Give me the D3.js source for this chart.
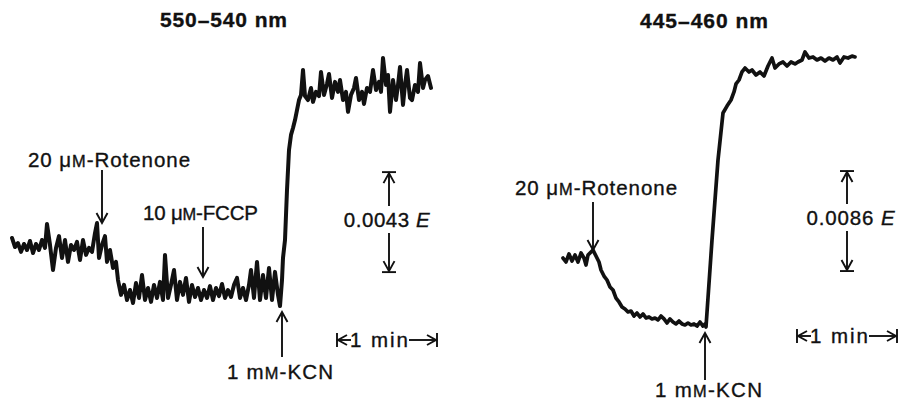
<!DOCTYPE html>
<html><head><meta charset="utf-8">
<script src="https://cdn.jsdelivr.net/npm/d3@7"></script>
<style>
body{margin:0;background:#fff}
svg{display:block}
text{font-family:"Liberation Sans",Arial,Helvetica,sans-serif;fill:#111;stroke:#111;stroke-width:0.35px}
</style>
</head><body>
<svg id="c" width="898" height="400"></svg>
<script>
// ---------- DATA ----------
const leftTitle = "550–540 nm";
const rightTitle = "445–460 nm";
// time in s, signal in 10^-3 E (absorbance change)
const leftTime = [0,1.8,3.6,5.4,7.2,9.0,10.8,12.6,14.4,16.2,18.0,19.8,21.0,22.8,24.6,26.4,28.2,30.0,31.8,33.6,35.4,37.2,39.0,40.8,42.6,44.4,46.2,48.0,49.8,51.0,52.2,54.0,55.8,57.0,58.8,60.6,62.4,63.6,65.4,67.2,69.0,70.8,72.6,74.4,76.2,78.0,79.8,81.6,83.4,85.2,87.0,88.8,90.6,91.8,93.6,95.4,97.2,99.0,100.8,102.6,104.4,106.2,108.0,109.8,111.6,113.4,115.2,117.0,118.8,120.6,122.4,124.2,126.0,127.8,129.6,131.4,133.2,135.0,136.8,138.6,140.4,142.2,143.4,145.2,147.0,148.8,150.6,152.4,154.2,156.0,157.8,159.6,160.8,162.0,162.6,163.8,165.0,166.2,167.4,168.6,169.8,171.0,172.2,173.4,174.6,175.8,177.6,179.4,180.6,182.4,184.2,185.4,187.2,189.0,190.2,192.0,193.8,195.6,196.8,198.6,200.4,201.6,203.4,205.2,206.4,208.2,210.0,211.2,213.0,214.8,216.6,218.4,220.2,221.4,222.6,224.4,225.6,226.8,228.6,230.4,231.6,232.8,234.6,235.8,237.0,238.8,240.0,241.8,243.6,244.8,246.6,247.8,249.6,251.4];
const leftSignal = [2.97,2.58,2.75,2.37,2.71,2.45,2.84,2.32,2.71,2.45,2.88,2.54,3.57,2.67,1.59,2.54,3.05,2.11,2.88,1.94,2.67,2.45,2.80,2.02,2.88,2.24,2.54,2.37,3.18,3.61,2.11,2.67,3.05,1.94,2.45,1.68,1.94,1.16,0.52,0.95,0.30,0.73,0.17,1.03,0.39,1.38,0.30,0.82,0.22,0.95,0.39,1.08,0.30,2.24,0.39,0.95,1.59,0.30,1.08,0.52,1.25,0.22,0.95,0.43,0.82,0.30,0.73,0.39,0.90,0.30,0.82,0.47,0.99,0.39,0.73,0.43,0.95,1.25,0.39,0.82,0.30,0.95,1.59,0.39,1.94,0.30,1.38,0.39,1.68,0.30,1.51,0.52,0.04,1.16,2.11,2.88,5.03,6.75,7.40,7.70,8.04,8.47,8.90,9.12,10.19,9.07,8.90,9.42,8.82,9.25,9.07,10.11,9.12,9.59,10.02,8.99,9.68,9.25,9.76,8.90,9.25,8.39,9.12,9.42,9.85,8.90,9.25,8.73,9.42,9.25,10.19,9.33,9.68,9.25,10.71,9.55,9.98,8.39,9.76,8.90,9.55,10.32,8.69,9.55,10.19,8.99,8.90,9.55,9.25,10.49,9.42,9.76,9.93,9.42];
const rightTime = [0.6,2.4,4.2,6.0,7.8,9.6,11.4,13.2,14.4,15.6,17.4,18.6,20.4,22.2,23.4,25.2,27.0,28.8,30.6,32.4,34.2,36.0,37.8,39.6,41.4,43.2,45.0,46.8,48.6,50.4,52.2,54.0,55.8,57.6,59.4,61.2,63.0,64.8,66.6,68.4,70.2,72.0,73.8,75.6,77.4,79.2,81.0,82.8,84.6,85.8,86.4,90.0,93.6,96.6,99.0,101.4,103.2,104.4,106.2,108.0,109.8,112.2,114.0,116.4,118.8,121.2,123.6,126.0,127.8,130.2,132.6,135.0,137.4,139.8,141.6,144.0,145.8,148.2,150.6,153.0,155.4,157.8,160.2,162.6,165.0,166.8,169.2,171.6,174.0,175.8];
const rightSignal = [6.19,5.85,6.54,5.93,6.45,5.85,6.62,6.19,5.59,6.45,6.71,6.88,6.36,5.85,5.16,4.64,4.30,3.70,3.44,2.75,2.41,1.98,1.81,1.55,1.63,1.20,1.46,1.12,1.38,1.03,1.12,0.95,1.03,0.86,1.20,0.95,0.60,0.95,0.69,0.52,0.77,0.52,0.43,0.60,0.43,0.52,0.34,0.69,0.34,0.52,0.26,7.74,14.62,18.66,19.26,19.78,20.47,21.16,21.50,22.19,22.53,22.19,22.36,21.93,22.19,21.84,22.70,23.39,22.53,22.88,23.05,22.70,23.05,22.88,23.05,23.22,23.91,23.39,23.48,23.22,23.39,23.13,23.39,23.22,23.48,22.96,23.48,23.39,23.56,23.48];
// additions (label, time in s)
const leftEventLabels = ["20 μM-Rotenone", "10 μM-FCCP", "1 mM-KCN"];
const leftEventTimes = [54.0, 114.6, 162.0];
const rightEventLabels = ["20 μM-Rotenone", "1 mM-KCN"];
const rightEventTimes = [18.6, 85.8];
// calibration bars
const leftScaleLabel = ["0.0043 ", "E"];
const leftScaleValue = 4.3;   // 10^-3 E
const rightScaleLabel = ["0.0086 ", "E"];
const rightScaleValue = 8.6;  // 10^-3 E
const timeBarLabel = "1 min";
const timeBarSeconds = 60;

// ---------- DRAW ----------
const svg = d3.select("#c");
const ink = "#111";
const FS = 20.5;

function richLabel(g, str, x, y, size, width, anchor, weight) {
  const t = g.append("text").attr("x", x).attr("y", y)
    .attr("font-size", size).attr("font-weight", weight || "normal")
    .attr("text-anchor", anchor || "start");
  let buf = "";
  for (let i = 0; i < str.length; i++) {
    const ch = str[i];
    if (ch === "M" && i > 0 && (str[i-1] === "μ" || str[i-1] === "m")) {
      if (buf) { t.append("tspan").text(buf); buf = ""; }
      t.append("tspan").attr("font-size", size * 0.8).text("M");
    } else buf += ch;
  }
  if (buf) t.append("tspan").text(buf);
  fitWidth(t, str.length, width);
  return t;
}
function fitWidth(t, n, width) {
  if (!width) return;
  const len = t.node().getComputedTextLength();
  const ls = (width - len) / Math.max(1, n - 1);
  t.attr("letter-spacing", ls.toFixed(2));
}
function arrowDown(g, x, y0, tip) {
  g.append("line").attr("x1", x).attr("x2", x).attr("y1", y0).attr("y2", tip - 1)
    .attr("stroke", ink).attr("stroke-width", 1.9);
  g.append("path").attr("d", `M${x-5.5},${tip-10}L${x},${tip}L${x+5.5},${tip-10}`)
    .attr("fill", "none").attr("stroke", ink).attr("stroke-width", 1.9);
}
function arrowUp(g, x, tip, y1) {
  g.append("line").attr("x1", x).attr("x2", x).attr("y1", tip + 1).attr("y2", y1)
    .attr("stroke", ink).attr("stroke-width", 1.9);
  g.append("path").attr("d", `M${x-5.5},${tip+10}L${x},${tip}L${x+5.5},${tip+10}`)
    .attr("fill", "none").attr("stroke", ink).attr("stroke-width", 1.9);
}

function panel(cfg) {
  const g = svg.append("g");
  const x = d3.scaleLinear().domain([0, timeBarSeconds]).range([cfg.x0, cfg.x0 + 100]);
  const y = d3.scaleLinear().domain([0, cfg.scaleValue]).range([cfg.y0, cfg.y0 - 100]);
  const pts = d3.zip(cfg.time, cfg.signal);
  const line = d3.line().x(d => x(d[0])).y(d => y(d[1]));
  g.append("path").datum(pts).attr("d", line)
    .attr("fill", "none").attr("stroke", ink).attr("stroke-width", cfg.lw)
    .attr("stroke-linejoin", "round").attr("stroke-linecap", "round");

  richLabel(g, cfg.title, cfg.titlePos[0], cfg.titlePos[1], 21, cfg.titlePos[2], "start", "bold");

  cfg.eventLabels.forEach((lab, i) => {
    const ex = x(cfg.eventTimes[i]);
    const L = cfg.eventLayout[i];
    if (L.dir === "down") arrowDown(g, ex, L.a, L.b);
    else arrowUp(g, ex, L.a, L.b);
    richLabel(g, lab, L.tx, L.ty, FS, L.tw, "start");
  });

  const sx = x(cfg.scaleT);
  const yb = y(cfg.scaleBase), yt = y(cfg.scaleBase + cfg.scaleValue);
  const S = cfg.scaleLayout;
  g.append("line").attr("x1", sx - 7).attr("x2", sx + 7).attr("y1", yt).attr("y2", yt)
    .attr("stroke", ink).attr("stroke-width", 1.9);
  arrowUp(g, sx, yt + 1, S.gapTop);
  g.append("line").attr("x1", sx - 7).attr("x2", sx + 7).attr("y1", yb).attr("y2", yb)
    .attr("stroke", ink).attr("stroke-width", 1.9);
  arrowDown(g, sx, S.gapBot, yb - 1);
  const st = g.append("text").attr("x", S.cx).attr("y", S.ty).attr("font-size", FS)
    .attr("text-anchor", "middle");
  st.append("tspan").text(cfg.scaleLabel[0]);
  st.append("tspan").attr("font-style", "italic").text(cfg.scaleLabel[1]);
  fitWidth(st, cfg.scaleLabel.join("").length, S.tw);

  const tx0 = x(cfg.timeBarT), tx1 = x(cfg.timeBarT + timeBarSeconds);
  const T = cfg.timeLayout;
  const tt = g.append("text").attr("x", T.tx).attr("y", T.ty).attr("font-size", FS).text(timeBarLabel);
  fitWidth(tt, timeBarLabel.length, T.tw);
  const ay = T.ay;
  [tx0, tx1].forEach(v => g.append("line").attr("x1", v).attr("x2", v)
    .attr("y1", ay - 7).attr("y2", ay + 7).attr("stroke", ink).attr("stroke-width", 1.9));
  g.append("line").attr("x1", tx0 + 1).attr("x2", T.tx + 1).attr("y1", ay).attr("y2", ay)
    .attr("stroke", ink).attr("stroke-width", 1.9);
  g.append("path").attr("d", `M${tx0+10},${ay-5}L${tx0+1},${ay}L${tx0+10},${ay+5}`)
    .attr("fill", "none").attr("stroke", ink).attr("stroke-width", 1.9);
  g.append("line").attr("x1", T.tx + T.tw + 1).attr("x2", tx1 - 1).attr("y1", ay).attr("y2", ay)
    .attr("stroke", ink).attr("stroke-width", 1.9);
  g.append("path").attr("d", `M${tx1-10},${ay-5}L${tx1-1},${ay}L${tx1-10},${ay+5}`)
    .attr("fill", "none").attr("stroke", ink).attr("stroke-width", 1.9);
}

panel({
  title: leftTitle, titlePos: [160, 27, 127], lw: 4,
  time: leftTime, signal: leftSignal,
  x0: 12, y0: 307, scaleValue: leftScaleValue,
  eventLabels: leftEventLabels, eventTimes: leftEventTimes,
  eventLayout: [
    {dir: "down", a: 170, b: 223, tx: 28, ty: 167, tw: 162},
    {dir: "down", a: 227, b: 277, tx: 143, ty: 220, tw: 115},
    {dir: "up", a: 312, b: 357, tx: 227, ty: 379, tw: 106}
  ],
  scaleT: 226.2, scaleBase: 1.5, scaleLabel: leftScaleLabel,
  scaleLayout: {gapTop: 206, gapBot: 233, cx: 387, ty: 227, tw: 86},
  timeBarT: 195, timeLayout: {tx: 350, ty: 347, tw: 58, ay: 340}
});
panel({
  title: rightTitle, titlePos: [640, 28, 128], lw: 3.7,
  time: rightTime, signal: rightSignal,
  x0: 562, y0: 330, scaleValue: rightScaleValue,
  eventLabels: rightEventLabels, eventTimes: rightEventTimes,
  eventLayout: [
    {dir: "down", a: 202, b: 250, tx: 515, ty: 195, tw: 162},
    {dir: "up", a: 333, b: 380, tx: 655, ty: 397, tw: 107}
  ],
  scaleT: 171, scaleBase: 5.07, scaleLabel: rightScaleLabel,
  scaleLayout: {gapTop: 204, gapBot: 231, cx: 851, ty: 225, tw: 88},
  timeBarT: 141, timeLayout: {tx: 810, ty: 343, tw: 58, ay: 336}
});
</script>
</body></html>
